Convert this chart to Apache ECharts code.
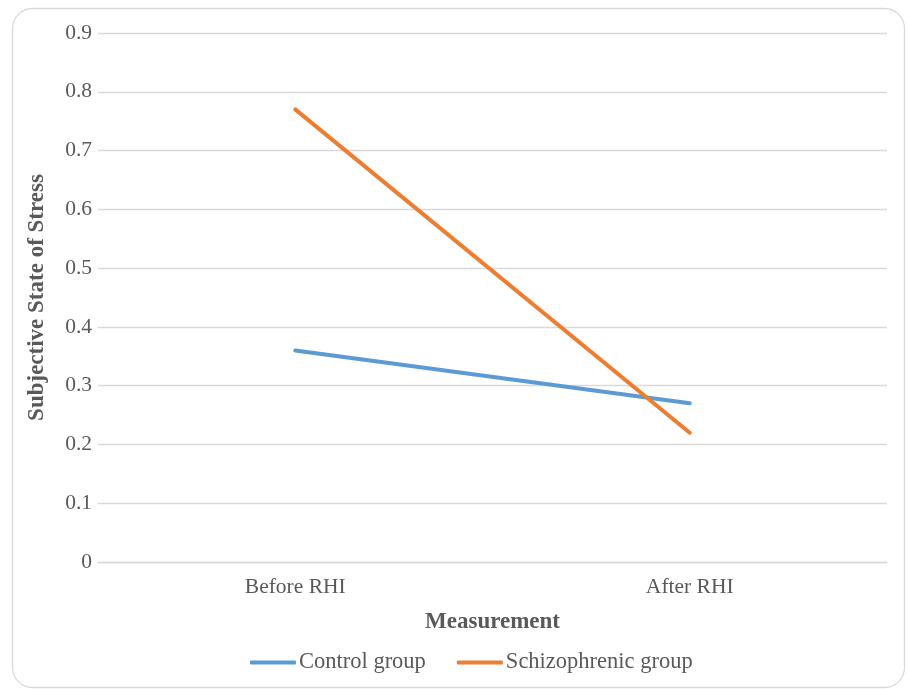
<!DOCTYPE html>
<html>
<head>
<meta charset="utf-8">
<script src="https://cdn.jsdelivr.net/npm/echarts@6/dist/echarts.min.js"></script>
<style>
  html, body { margin: 0; padding: 0; background: #ffffff; }
  #chart { width: 909px; height: 689px; }
</style>
</head>
<body>
<div id="chart"></div>
<script>
// Measurement points and group means
const categories = ['Before RHI', 'After RHI'];
const controlGroup = [0.36, 0.27];
const schizophrenicGroup = [0.77, 0.22];
const yTicks = { min: 0, max: 0.9, interval: 0.1 };

const FONT = '"Liberation Serif", "Times New Roman", serif';
const chart = echarts.init(document.getElementById('chart'), null, { renderer: 'canvas' });

chart.setOption({
  backgroundColor: '#ffffff',
  animation: false,
  graphic: [{
    type: 'rect',
    shape: { x: 12.5, y: 8.5, width: 892, height: 679, r: 20 },
    style: { fill: 'none', stroke: '#d9d9d9', lineWidth: 1.3 },
    silent: true,
    z: -1
  }],
  grid: { left: 98, right: 22, top: 33, bottom: 127 },
  legend: {
    top: 646,
    left: 245,
    itemWidth: 46,
    itemHeight: 4,
    itemGap: 31,
    icon: 'roundRect',
    textStyle: { fontFamily: FONT, fontSize: 22.5, color: '#595959', padding: [0, 0, 0, -2] },
    data: ['Control group', 'Schizophrenic group']
  },
  xAxis: {
    type: 'category',
    data: categories,
    boundaryGap: true,
    name: 'Measurement',
    nameLocation: 'middle',
    nameGap: 49,
    nameTextStyle: { fontFamily: FONT, fontSize: 23, fontWeight: 'bold', color: '#595959' },
    axisLine: { lineStyle: { color: '#d9d9d9', width: 1.3 } },
    axisTick: { show: false },
    axisLabel: { fontFamily: FONT, fontSize: 21.5, color: '#595959', margin: 14 }
  },
  yAxis: {
    type: 'value',
    min: yTicks.min,
    max: yTicks.max,
    interval: yTicks.interval,
    name: 'Subjective State of Stress',
    nameLocation: 'middle',
    nameGap: 49,
    nameTextStyle: { fontFamily: FONT, fontSize: 23, fontWeight: 'bold', color: '#595959' },
    axisLine: { show: false },
    axisTick: { show: false },
    splitLine: { lineStyle: { color: '#d9d9d9', width: 1.3 } },
    axisLabel: {
      fontFamily: FONT, fontSize: 21.5, color: '#595959', margin: 6,
      formatter: v => (Math.round(v * 10) / 10).toString()
    }
  },
  series: [
    {
      name: 'Control group',
      type: 'line',
      data: controlGroup,
      showSymbol: false,
      symbol: 'none',
      itemStyle: { color: '#5b9bd5' },
      lineStyle: { color: '#5b9bd5', width: 4, cap: 'round' }
    },
    {
      name: 'Schizophrenic group',
      type: 'line',
      data: schizophrenicGroup,
      showSymbol: false,
      symbol: 'none',
      itemStyle: { color: '#ed7d31' },
      lineStyle: { color: '#ed7d31', width: 4, cap: 'round' }
    }
  ]
});
</script>
</body>
</html>
